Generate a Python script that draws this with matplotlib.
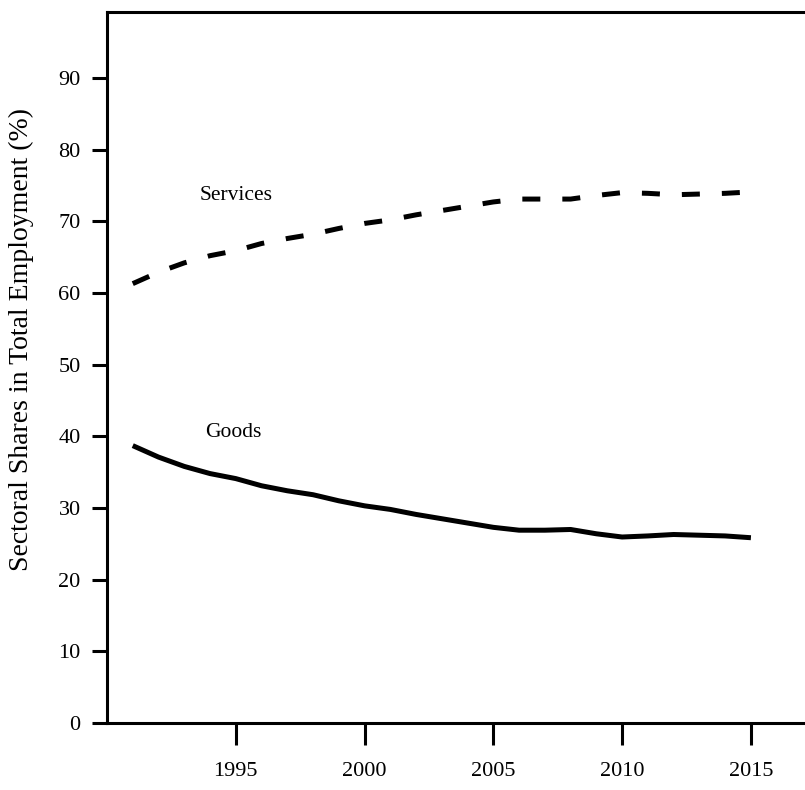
import matplotlib
matplotlib.use("Agg")
import matplotlib.pyplot as plt

years = list(range(1991, 2016))
services = [61.3, 62.9, 64.2, 65.2, 65.9, 66.9, 67.6, 68.2, 69.0, 69.7,
            70.2, 70.9, 71.5, 72.1, 72.7, 73.1, 73.1, 73.1, 73.6, 74.0,
            73.9, 73.7, 73.8, 73.9, 74.1]
goods = [38.7, 37.1, 35.8, 34.8, 34.1, 33.1, 32.4, 31.85, 31.0, 30.3,
         29.8, 29.1, 28.5, 27.9, 27.3, 26.9, 26.9, 27.0, 26.4, 25.95,
         26.1, 26.3, 26.2, 26.1, 25.85]
xticks = [1995, 2000, 2005, 2010, 2015]
yticks = [0, 10, 20, 30, 40, 50, 60, 70, 80, 90]

plt.rcParams['font.family'] = ['Liberation Serif', 'DejaVu Serif']

fig = plt.figure(figsize=(8.05, 7.9), dpi=100)
ax = fig.add_axes([107/805, 67/790, 698/805, 711/790])

ax.plot(years, services, color='black', lw=3.6, dashes=(3.6, 4.4),
        dash_capstyle='butt')
ax.plot(years, goods, color='black', lw=3.6, solid_capstyle='butt')

ax.text(1995.0, 73.6, 'Services', fontsize=15.5, ha='center', va='center')
ax.text(1994.9, 40.5, 'Goods', fontsize=15.5, ha='center', va='center')

ax.set_xlim(1990, 2017.1)
ax.set_ylim(0, 99.2)
ax.set_xticks(xticks)
ax.set_yticks(yticks)
ax.tick_params(axis='x', length=16, width=2.2, direction='out', labelsize=16, pad=12)
ax.tick_params(axis='y', length=11, width=2.2, direction='out', labelsize=16, pad=8)

for s in ['left', 'bottom', 'top']:
    ax.spines[s].set_linewidth(2.2)
ax.spines['right'].set_visible(False)

ax.set_ylabel('Sectoral Shares in Total Employment (%)', fontsize=20)
ax.yaxis.set_label_coords(-0.104, 0.539)

fig.savefig('out.png', dpi=100)
